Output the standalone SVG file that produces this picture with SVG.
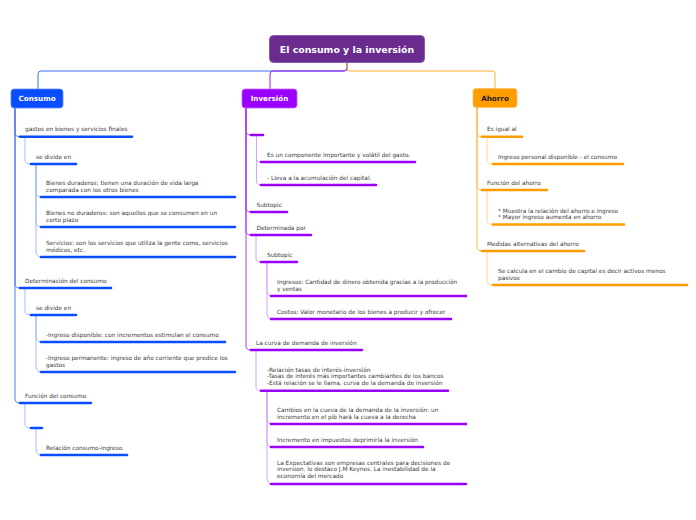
<svg xmlns="http://www.w3.org/2000/svg" width="696" height="520" viewBox="0 0 696 520">
<style>
.t{font-family:"DejaVu Sans",Verdana,sans-serif;font-size:5.8px;fill:#3a3a3a}
.h{font-family:"DejaVu Sans",Verdana,sans-serif;font-weight:bold;font-size:7.2px;text-anchor:middle}
.bb{stroke:#0a4cff;stroke-width:2.6;stroke-linecap:round;fill:none}
.bp{stroke:#9a00ff;stroke-width:2.6;stroke-linecap:round;fill:none}
.bo{stroke:#ff9d00;stroke-width:2.6;stroke-linecap:round;fill:none}
.cb1{stroke:#4a78ff;stroke-width:1;fill:none}
.cb2{stroke:#a3baff;stroke-width:1;fill:none}
.cp1{stroke:#ac3dff;stroke-width:1;fill:none}
.cp2{stroke:#d7a3ff;stroke-width:1;fill:none}
.co1{stroke:#ffbb55;stroke-width:1;fill:none}
.co2{stroke:#ffd699;stroke-width:1;fill:none}
</style>
<rect width="696" height="520" fill="#ffffff"/>
<g id="connectors">
<path d="M347,63 V68 Q347,71 344,71 H41 Q38,71 38,74 V89" stroke="#3d6bff" stroke-width="1" fill="none"/>
<path d="M347,63 V68 Q347,71 344,71 H273 Q270,71 270,74 V89" stroke="#9a1aff" stroke-width="1" fill="none"/>
<path d="M347,63 V68 Q347,71 350,71 H492 Q495,71 495,74 V88" stroke="#ffb030" stroke-width="1" fill="none"/>
<path class="cb1" d="M15,108 V132.7 Q15,136.7 20,136.7"/>
<path class="cb1" d="M15,108 V284 Q15,288 20,288"/>
<path class="cb1" d="M15,108 V399 Q15,403 20,403"/>
<path class="cb2" d="M25,136.7 V160 Q25,164 31,164"/>
<path class="cb2" d="M36,164 V192 Q37,197 41,197"/>
<path class="cb2" d="M36,164 V222 Q37,227 41,227"/>
<path class="cb2" d="M36,164 V252 Q37,257 41,257"/>
<path class="cb2" d="M25,288 V311 Q25,315 31,315"/>
<path class="cb2" d="M36,315 V337 Q37,342 41,342"/>
<path class="cb2" d="M36,315 V367 Q37,372 41,372"/>
<path class="cb2" d="M25,403 V424 Q25,428 31,428"/>
<path class="cb2" d="M36,428 V450 Q37,455 41,455"/>
<path class="cp1" d="M246,108 V131 Q246,135 251,135"/>
<path class="cp1" d="M246,108 V208 Q246,212 251,212"/>
<path class="cp1" d="M246,108 V231 Q246,235 251,235"/>
<path class="cp1" d="M246,108 V346 Q246,350 251,350"/>
<path class="cp2" d="M256.5,135 V158 Q256.5,162 261,162"/>
<path class="cp2" d="M256.5,135 V181 Q256.5,185 261,185"/>
<path class="cp2" d="M256,235 V258 Q256,262 261,262"/>
<path class="cp2" d="M267,262 V291 Q268,296 271,296"/>
<path class="cp2" d="M267,262 V314 Q268,319 271,319"/>
<path class="cp2" d="M256,350 V386.7 Q256,390.7 261,390.7"/>
<path class="cp2" d="M267,390.7 V419 Q268,424 271,424"/>
<path class="cp2" d="M267,390.7 V442 Q268,447 271,447"/>
<path class="cp2" d="M267,390.7 V479 Q268,484 271,484"/>
<path class="co1" d="M477,107 V132.7 Q477,136.7 482,136.7"/>
<path class="co1" d="M477,107 V186 Q477,190 482,190"/>
<path class="co1" d="M477,107 V247 Q477,251 482,251"/>
<path class="co2" d="M487,136.7 V160 Q487,164 493,164"/>
<path class="co2" d="M487,190 V220.5 Q487,224.5 493,224.5"/>
<path class="co2" d="M487,251 V281 Q487,285 493,285"/>
</g>
<g id="root">
<rect x="269.5" y="35.5" width="155" height="27" rx="4" fill="#6a2b8f" stroke="#8d5bb0" stroke-width="1"/>
<text x="347" y="52.6" class="h" style="font-size:9.4px" fill="#ffffff">El consumo y la inversión</text>
</g>
<g id="consumo">
<rect x="11" y="89" width="52" height="19" rx="3" fill="#0a4cff" stroke="#5f8aff" stroke-width="0.8"/>
<text x="37" y="101.2" class="h" fill="#ffffff">Consumo</text>
</g>
<g id="inversion">
<rect x="242" y="89" width="55" height="19" rx="3" fill="#9a00ff" stroke="#c066ff" stroke-width="0.8"/>
<text x="269.5" y="101.2" class="h" fill="#ffffff">Inversión</text>
</g>
<g id="ahorro">
<rect x="473" y="88.5" width="44" height="19" rx="3" fill="#ff9d00" stroke="#ffc266" stroke-width="0.8"/>
<text x="495" y="100.7" class="h" fill="#1a1a1a">Ahorro</text>
</g>
<g id="c1"><text class="t" x="25" y="131.2">gastos en bienes y servicios finales</text><path class="bb" d="M20,136.7 H132"/></g>
<g id="c2"><text class="t" x="36" y="158.5">se divide en</text><path class="bb" d="M31,164 H76"/></g>
<g id="c3"><text class="t" x="46" y="184.5">Bienes duraderos: tienen una duración de vida larga</text><text class="t" x="46" y="191.5">comparada con los otros bienes</text><path class="bb" d="M41,197 H235"/></g>
<g id="c4"><text class="t" x="46" y="214.5">Bienes no duraderos: son aquellos que se consumen en un</text><text class="t" x="46" y="221.5">corto plazo</text><path class="bb" d="M41,227 H235"/></g>
<g id="c5"><text class="t" x="46" y="244.5">Servicios: son los servicios que utiliza la gente como, servicios</text><text class="t" x="46" y="251.5">médicos, etc.</text><path class="bb" d="M41,257 H235"/></g>
<g id="c6"><text class="t" x="25" y="282.5">Determinación del consumo</text><path class="bb" d="M20,288 H111"/></g>
<g id="c7"><text class="t" x="36" y="309.5">se divide en</text><path class="bb" d="M31,315 H76"/></g>
<g id="c8"><text class="t" x="46" y="336.5">-Ingreso disponible: con incrementos estimulan el consumo</text><path class="bb" d="M41,342 H225"/></g>
<g id="c9"><text class="t" x="46" y="359.5">-Ingreso permanente: ingreso de año corriente que predice los</text><text class="t" x="46" y="366.5">gastos</text><path class="bb" d="M41,372 H235"/></g>
<g id="c10"><text class="t" x="25" y="397.5">Función del consumo</text><path class="bb" d="M20,403 H91"/></g>
<g id="c11"><path class="bb" d="M31,428 H42"/></g>
<g id="c12"><text class="t" x="46" y="449.5">Relación consumo-ingreso</text><path class="bb" d="M41,455 H127"/></g>
<g id="i1"><path class="bp" d="M251,135 H263"/></g>
<g id="i2"><text class="t" x="267" y="156.5">Es un componente importante y volátil del gasto.</text><path class="bp" d="M261,162 H415"/></g>
<g id="i3"><text class="t" x="267" y="179.5">- Lleva a la acumulación del capital.</text><path class="bp" d="M261,185 H376"/></g>
<g id="i4"><text class="t" x="256.5" y="206.5">Subtopic</text><path class="bp" d="M251,212 H287"/></g>
<g id="i5"><text class="t" x="256.5" y="229.5">Determinada por</text><path class="bp" d="M251,235 H311"/></g>
<g id="i6"><text class="t" x="267" y="256.5">Subtopic</text><path class="bp" d="M261,262 H297"/></g>
<g id="i7"><text class="t" x="277" y="283.5">Ingresos: Cantidad de dinero obtenida gracias a la producción</text><text class="t" x="277" y="290.5">y ventas</text><path class="bp" d="M271,296 H466"/></g>
<g id="i8"><text class="t" x="277" y="313.5">Costos: Valor monetario de los bienes a producir y ofrecer</text><path class="bp" d="M271,319 H451"/></g>
<g id="i9"><text class="t" x="256" y="344.5">La curva de demanda de inversión</text><path class="bp" d="M251,350 H362"/></g>
<g id="i10"><text class="t" x="267" y="371.6">-Relación tasas de interés-inversión</text><text class="t" x="267" y="378.4">-Tasas de interés más importantes cambiantes de los bancos</text><text class="t" x="267" y="385.2">-Está relación se le llama, curva de la demanda de inversión</text><path class="bp" d="M261,390.7 H448"/></g>
<g id="i11"><text class="t" x="277" y="411.5">Cambios en la cueva de la demanda de la inversión: un</text><text class="t" x="277" y="418.5">incremento en el pib hará la cueva a la derecha</text><path class="bp" d="M271,424 H466"/></g>
<g id="i12"><text class="t" x="277" y="441.5">Incremento en impuestos deprimiría la inversión</text><path class="bp" d="M271,447 H423"/></g>
<g id="i13"><text class="t" x="277" y="464.6">La Expectativas son empresas centrales para decisiones de</text><text class="t" x="277" y="471.4">inversion. lo destaco J.M Keynes. La inestabilidad de la</text><text class="t" x="277" y="478.2">economía del mercado</text><path class="bp" d="M271,484 H466"/></g>
<g id="a1"><text class="t" x="487" y="131.2">Es igual al</text><path class="bo" d="M482,136.7 H522"/></g>
<g id="a2"><text class="t" x="498" y="158.5">Ingreso personal disponible - el consumo</text><path class="bo" d="M493,164 H623"/></g>
<g id="a3"><text class="t" x="487" y="184.5">Función del ahorro</text><path class="bo" d="M482,190 H547"/></g>
<g id="a4"><text class="t" x="498" y="212.5">* Muestra la relación del ahorro e ingreso</text><text class="t" x="498" y="219">* Mayor ingreso aumenta en ahorro</text><path class="bo" d="M493,224.5 H624"/></g>
<g id="a5"><text class="t" x="487" y="245.5">Medidas alternativas del ahorro</text><path class="bo" d="M482,251 H584"/></g>
<g id="a6"><text class="t" x="498" y="272.5">Se calcula en el cambio de capital es decir activos menos</text><text class="t" x="498" y="279.5">pasivos</text><path class="bo" d="M493,285 H687"/></g>
</svg>
